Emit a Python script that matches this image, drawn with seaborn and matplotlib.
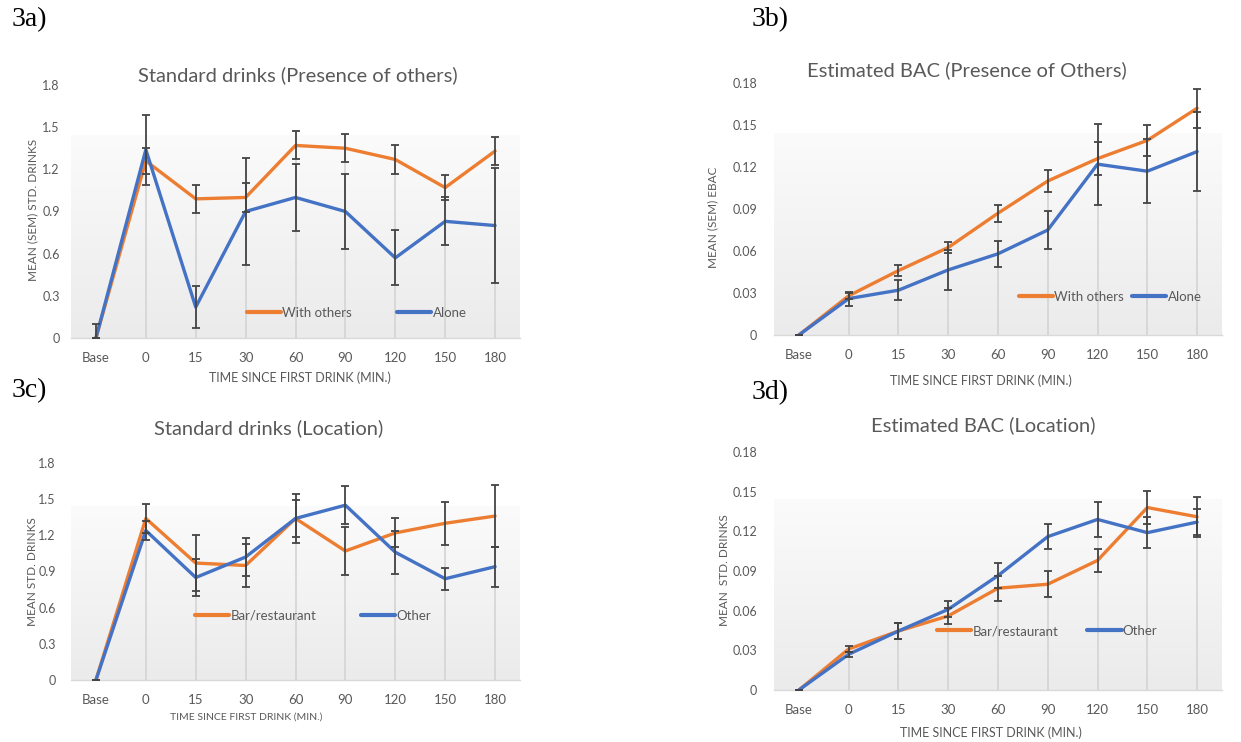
import numpy as np
import pandas as pd
import matplotlib
matplotlib.use("Agg")
import matplotlib.pyplot as plt
import seaborn as sns
from matplotlib.lines import Line2D

sns.set_theme(style="white")
plt.rcParams['font.family'] = ['Lato', 'DejaVu Sans']

# ---------------- data ----------------
times = ["Base", "0", "15", "30", "60", "90", "120", "150", "180"]

a_with = [0, 1.26, 0.99, 1.00, 1.37, 1.35, 1.27, 1.07, 1.33]
a_with_sem = [0, 0.09, 0.10, 0.10, 0.10, 0.10, 0.10, 0.09, 0.10]
a_alone = [0, 1.34, 0.22, 0.90, 1.00, 0.90, 0.57, 0.83, 0.80]
a_alone_sem = [0.10, 0.25, 0.15, 0.38, 0.24, 0.265, 0.195, 0.17, 0.41]

b_with = [0, 0.028, 0.046, 0.0625, 0.087, 0.110, 0.126, 0.139, 0.162]
b_with_sem = [0, 0.002, 0.004, 0.004, 0.006, 0.008, 0.012, 0.011, 0.014]
b_alone = [0, 0.026, 0.032, 0.0465, 0.058, 0.075, 0.122, 0.117, 0.131]
b_alone_sem = [0, 0.005, 0.007, 0.014, 0.0095, 0.0135, 0.029, 0.023, 0.028]

c_bar = [0, 1.34, 0.97, 0.95, 1.34, 1.07, 1.22, 1.30, 1.36]
c_bar_sem = [0, 0.12, 0.23, 0.18, 0.20, 0.20, 0.12, 0.18, 0.26]
c_other = [0, 1.24, 0.85, 1.02, 1.34, 1.45, 1.06, 0.84, 0.94]
c_other_sem = [0, 0.08, 0.15, 0.16, 0.15, 0.16, 0.18, 0.09, 0.165]

d_bar = [0, 0.031, 0.0446, 0.056, 0.077, 0.080, 0.098, 0.138, 0.131]
d_bar_sem = [0, 0.002, 0.006, 0.006, 0.0095, 0.0098, 0.009, 0.0125, 0.015]
d_other = [0, 0.027, 0.0446, 0.061, 0.0865, 0.116, 0.129, 0.119, 0.127]
d_other_sem = [0, 0.002, 0.006, 0.006, 0.0095, 0.0095, 0.0133, 0.0115, 0.010]

yt_drinks = [0, 0.3, 0.6, 0.9, 1.2, 1.5, 1.8]
yt_drinks_lbl = ["0", "0.3", "0.6", "0.9", "1.2", "1.5", "1.8"]
yt_bac = [0, 0.03, 0.06, 0.09, 0.12, 0.15, 0.18]
yt_bac_lbl = ["0", "0.03", "0.06", "0.09", "0.12", "0.15", "0.18"]

ORANGE = "#ED7D31"
BLUE = "#4472C4"
GREY = "#595959"

W, H = 1241, 742
fig = plt.figure(figsize=(W / 100, H / 100), dpi=100)


def rect(l, r, top, bottom):
    return [l / W, 1 - bottom / H, (r - l) / W, (bottom - top) / H]


panels = [
    dict(pos=rect(71, 520, 85, 338), s1=("With others", a_with, a_with_sem),
         s2=("Alone", a_alone, a_alone_sem), yt=yt_drinks, ytl=yt_drinks_lbl,
         title="Standard drinks (Presence of others)", title_xy=(298, 75),
         ylabel="MEAN (SEM) STD. DRINKS", ylab_xy=(33, 210),
         xlabel="TIME SINCE FIRST DRINK (MIN.)", xlab_xy=(300, 378), xlab_fs=9,
         leg_xy=(250, 313), leg_gap=3.4, ypad=8, tag="3a)", tag_xy=(12, 20)),
    dict(pos=rect(774, 1222, 83, 335), s1=("With others", b_with, b_with_sem),
         s2=("Alone", b_alone, b_alone_sem), yt=yt_bac, ytl=yt_bac_lbl,
         title="Estimated BAC (Presence of Others)", title_xy=(967, 70),
         ylabel="MEAN (SEM) EBAC", ylab_xy=(713, 217),
         xlabel="TIME SINCE FIRST DRINK (MIN.)", xlab_xy=(981, 381), xlab_fs=9,
         leg_xy=(1022, 297), leg_gap=0.6, ypad=12, tag="3b)", tag_xy=(752, 20)),
    dict(pos=rect(71, 520, 463, 680), s1=("Bar/restaurant", c_bar, c_bar_sem),
         s2=("Other", c_other, c_other_sem), yt=yt_drinks, ytl=yt_drinks_lbl,
         title="Standard drinks (Location)", title_xy=(269, 428),
         ylabel="MEAN STD. DRINKS", ylab_xy=(33, 572),
         xlabel="TIME SINCE FIRST DRINK (MIN.)", xlab_xy=(246, 717), xlab_fs=7.5,
         leg_xy=(198, 616), leg_gap=3.4, ypad=11, tag="3c)", tag_xy=(12, 391)),
    dict(pos=rect(774, 1222, 452, 690), s1=("Bar/restaurant", d_bar, d_bar_sem),
         s2=("Other", d_other, d_other_sem), yt=yt_bac, ytl=yt_bac_lbl,
         title="Estimated BAC (Location)", title_xy=(983, 425),
         ylabel="MEAN  STD. DRINKS", ylab_xy=(724, 570),
         xlabel="TIME SINCE FIRST DRINK (MIN.)", xlab_xy=(991, 733), xlab_fs=9,
         leg_xy=(940, 631), leg_gap=2.2, ypad=12, tag="3d)", tag_xy=(752, 393)),
]

xpos = np.arange(len(times))
grad = np.linspace(0, 1, 256).reshape(-1, 1)
gcmap = matplotlib.colors.LinearSegmentedColormap.from_list("g", ["#fbfbfb", "#ebebeb"])

for p in panels:
    ax = fig.add_axes(p["pos"])
    ymax = p["yt"][-1]
    name1, v1, e1 = p["s1"]
    name2, v2, e2 = p["s2"]
    df = pd.DataFrame({
        "t": np.concatenate([xpos, xpos]),
        "v": np.array(v1 + v2, dtype=float),
        "series": [name1] * len(times) + [name2] * len(times),
    })

    # subtle gradient background (decorative)
    ax.imshow(grad, extent=[0, 1, 0, 0.80], transform=ax.transAxes, aspect="auto",
              cmap=gcmap, zorder=0, vmin=0, vmax=1)

    # drop lines
    tops = np.maximum(np.array(v1), np.array(v2))
    ax.vlines(xpos[1:], 0, tops[1:], color="#d4d4d4", lw=1.2, zorder=1)

    sns.lineplot(data=df, x="t", y="v", hue="series", palette=[ORANGE, BLUE],
                 linewidth=2.4, ax=ax, legend=False, zorder=3, sort=False)

    for v, e in ((v1, e1), (v2, e2)):
        ax.errorbar(xpos, v, yerr=e, fmt="none", ecolor="#444444", elinewidth=1.3,
                    capsize=3.2, capthick=1.3, zorder=4)

    ax.set_xlim(-0.5, len(times) - 0.5)
    ax.set_ylim(0, ymax)
    ax.set_xticks(xpos)
    ax.set_xticklabels(times)
    ax.set_yticks(p["yt"])
    ax.set_yticklabels(p["ytl"])
    ax.tick_params(axis="x", length=0, pad=10, labelsize=9.5, labelcolor=GREY)
    ax.tick_params(axis="y", length=0, pad=p["ypad"], labelsize=9, labelcolor=GREY)
    ax.set_xlabel("")
    ax.set_ylabel("")
    for s in ("top", "right", "left"):
        ax.spines[s].set_visible(False)
    ax.spines["bottom"].set_color("#d9d9d9")
    ax.spines["bottom"].set_linewidth(1.0)
    ax.patch.set_alpha(0)

    # texts
    tx, ty = p["title_xy"]
    fig.text(tx / W, 1 - ty / H, p["title"], ha="center", va="center",
             fontsize=14.5, color=GREY)
    yx, yy = p["ylab_xy"]
    fig.text(yx / W, 1 - yy / H, p["ylabel"], rotation=90,
             ha="center", va="center", fontsize=8.5, color=GREY)
    lx, ly = p["xlab_xy"]
    fig.text(lx / W, 1 - ly / H, p["xlabel"], ha="center", va="center",
             fontsize=p["xlab_fs"], color=GREY)
    gx, gy = p["tag_xy"]
    fig.text(gx / W, 1 - gy / H, p["tag"], ha="left", va="center", fontsize=20,
             family=["Liberation Serif"], color="black")

    handles = [Line2D([], [], color=ORANGE, lw=3), Line2D([], [], color=BLUE, lw=3)]
    lx0, ly0 = p["leg_xy"]
    fig.legend(handles, [name1, name2], ncol=2, frameon=False,
               loc="center left", bbox_to_anchor=(lx0 / W - 0.008, 1 - ly0 / H),
               fontsize=9.5, handlelength=2.6, handletextpad=0.1,
               columnspacing=p["leg_gap"], labelcolor=GREY, borderpad=0)

fig.savefig("out.png", dpi=100)
